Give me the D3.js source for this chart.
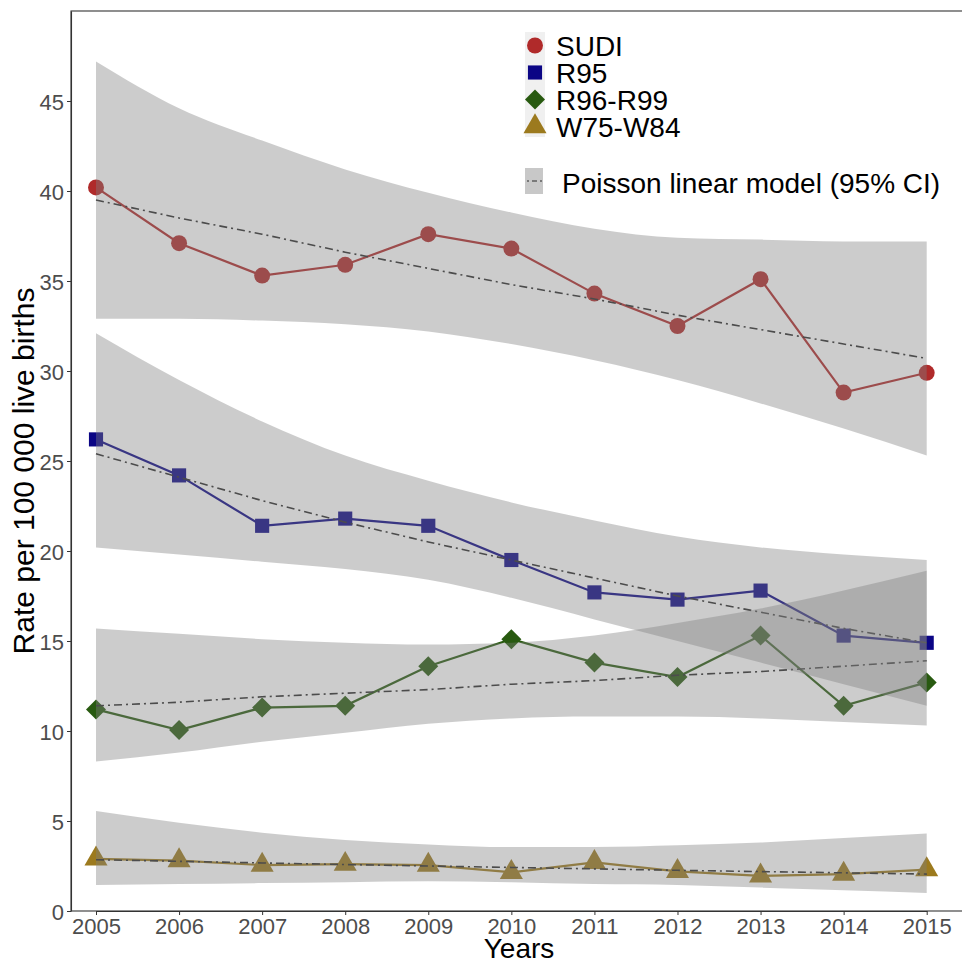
<!DOCTYPE html>
<html>
<head>
<meta charset="utf-8">
<script src="https://cdn.jsdelivr.net/npm/d3@7"></script>
<style>
  body { margin: 0; background: #fff; }
  svg text { font-family: "Liberation Sans", Arial, sans-serif; }
</style>
</head>
<body>
<svg id="chart" width="962" height="963"></svg>
<script>
// years on the x axis
var years = [2005, 2006, 2007, 2008, 2009, 2010, 2011, 2012, 2013, 2014, 2015];
var yTicks = [0, 5, 10, 15, 20, 25, 30, 35, 40, 45];

// observed rates per 100 000 live births
var sudi = [40.2, 37.1, 35.3, 35.9, 37.6, 36.8, 34.3, 32.5, 35.1, 28.8, 29.9];
var r95 = [26.2, 24.2, 21.4, 21.8, 21.4, 19.5, 17.7, 17.3, 17.8, 15.3, 14.9];
var r96r99 = [11.2, 10.05, 11.3, 11.4, 13.6, 15.1, 13.8, 13.0, 15.3, 11.4, 12.7];
var w75w84 = [2.9, 2.8, 2.55, 2.6, 2.55, 2.15, 2.7, 2.2, 1.95, 2.05, 2.3];

// Poisson model fits
var sudiFit = [39.5, 38.5, 37.6, 36.6, 35.7, 34.8, 34.0, 33.1, 32.3, 31.5, 30.7];
var r95Fit = [25.4, 24.1, 22.8, 21.6, 20.5, 19.5, 18.5, 17.5, 16.6, 15.7, 14.9];
var r96r99Fit = [11.4, 11.6, 11.9, 12.1, 12.3, 12.6, 12.8, 13.1, 13.3, 13.6, 13.9];
var w75w84Fit = [2.85, 2.76, 2.67, 2.58, 2.5, 2.42, 2.34, 2.26, 2.19, 2.12, 2.05];

// 95% CI bands
var sudiLo = [32.9, 32.9, 32.8, 32.6, 32.2, 31.5, 30.6, 29.5, 28.2, 26.8, 25.3];
var sudiHi = [47.2, 44.6, 42.8, 41.2, 39.9, 38.8, 37.9, 37.4, 37.3, 37.2, 37.2];
var r95Lo = [20.2, 19.8, 19.4, 19.0, 18.4, 17.4, 16.2, 15.0, 13.8, 12.6, 11.4];
var r95Hi = [32.1, 29.5, 27.2, 25.3, 23.9, 22.7, 21.7, 20.8, 20.2, 19.8, 19.5];
var r96r99Lo = [8.3, 8.8, 9.4, 9.9, 10.4, 10.7, 10.8, 10.8, 10.7, 10.5, 10.3];
var r96r99Hi = [15.7, 15.4, 15.1, 14.9, 14.8, 14.9, 15.3, 16.0, 16.8, 17.8, 18.9];
var w75w84Lo = [1.45, 1.5, 1.55, 1.6, 1.65, 1.6, 1.5, 1.45, 1.3, 1.15, 1.0];
var w75w84Hi = [5.55, 4.9, 4.35, 3.95, 3.7, 3.55, 3.55, 3.65, 3.8, 4.05, 4.3];

var seriesNames = ["SUDI", "R95", "R96-R99", "W75-W84"];
var seriesColors = ["#b02a2a", "#0b0585", "#285a10", "#9c7a1e"];
var seriesShapes = [d3.symbolCircle, d3.symbolSquare, d3.symbolSquare, d3.symbolTriangle];
var seriesRotate = [0, 0, 45, 0];
var seriesSizes = [200, 200, 200, 230];

var series = [
    {obs: sudi, fit: sudiFit, lo: sudiLo, hi: sudiHi},
    {obs: r95, fit: r95Fit, lo: r95Lo, hi: r95Hi},
    {obs: r96r99, fit: r96r99Fit, lo: r96r99Lo, hi: r96r99Hi},
    {obs: w75w84, fit: w75w84Fit, lo: w75w84Lo, hi: w75w84Hi}
];

var svg = d3.select("#chart");
var plotLeft = 71, plotTop = 11, plotBottom = 911;

var x = d3.scaleLinear().domain([2005, 2015]).range([96, 926.7]);
var y = d3.scaleLinear().domain([0, 50]).range([plotBottom, plotTop]);

var line = d3.line()
    .x(function(d, i) { return x(years[i]); })
    .y(function(d) { return y(d); });

var plot = svg.append("g");

// observed lines and points
series.forEach(function(s, k) {
    plot.append("path")
        .datum(s.obs)
        .attr("d", line)
        .attr("fill", "none")
        .attr("stroke", seriesColors[k])
        .attr("stroke-width", 2.2);

    plot.selectAll(".pt" + k)
        .data(s.obs)
        .enter().append("path")
        .attr("transform", function(d, i) {
            return "translate(" + x(years[i]) + "," + y(d) + ") rotate(" + seriesRotate[k] + ")";
        })
        .attr("d", d3.symbol().type(seriesShapes[k]).size(seriesSizes[k]))
        .attr("fill", seriesColors[k]);
});

// model lines
series.forEach(function(s) {
    plot.append("path")
        .datum(s.fit)
        .attr("d", line)
        .attr("fill", "none")
        .attr("stroke", "#2a2a2a")
        .attr("stroke-width", 1.6)
        .attr("stroke-dasharray", "8,4,2,4");
});

// CI ribbons drawn on top, semi transparent
var area = d3.area()
    .x(function(d) { return x(d.year); })
    .y0(function(d) { return y(d.lo); })
    .y1(function(d) { return y(d.hi); })
    .curve(d3.curveMonotoneX);

series.forEach(function(s) {
    var band = years.map(function(yr, i) { return {year: yr, lo: s.lo[i], hi: s.hi[i]}; });
    plot.append("path")
        .datum(band)
        .attr("d", area)
        .attr("fill", "#7f7f7f")
        .attr("fill-opacity", 0.4);
});

// panel frame (right edge is off the picture)
svg.append("rect")
    .attr("x", plotLeft)
    .attr("y", plotTop)
    .attr("width", 960)
    .attr("height", plotBottom - plotTop)
    .attr("fill", "none")
    .attr("stroke", "#333")
    .attr("stroke-width", 1.1);

// axes
var xAxis = svg.append("g")
    .attr("transform", "translate(0," + plotBottom + ")")
    .call(d3.axisBottom(x).tickValues(years).tickFormat(d3.format("d")).tickSize(4).tickSizeOuter(0).tickPadding(3));
var yAxis = svg.append("g")
    .attr("transform", "translate(" + plotLeft + ",0)")
    .call(d3.axisLeft(y).tickValues(yTicks).tickSize(4).tickSizeOuter(0).tickPadding(3));

[xAxis, yAxis].forEach(function(ax) {
    ax.select(".domain").attr("stroke", "#333").attr("stroke-width", 1.1);
    ax.selectAll(".tick line").attr("stroke", "#333");
    ax.selectAll("text")
        .attr("fill", "#4d4d4d")
        .style("font-size", "22px")
        .style("font-family", "'Liberation Sans', Arial, sans-serif");
});
yAxis.selectAll("text").attr("dy", "0.38em");

// axis titles
svg.append("text")
    .attr("x", 519)
    .attr("y", 958)
    .attr("text-anchor", "middle")
    .style("font-size", "28px")
    .text("Years");

svg.append("text")
    .attr("transform", "translate(34,471) rotate(-90)")
    .attr("text-anchor", "middle")
    .style("font-size", "30px")
    .text("Rate per 100 000 live births");

// legend
var legend = svg.append("g");
legend.append("rect")
    .attr("x", 525).attr("y", 32)
    .attr("width", 20).attr("height", 105)
    .attr("fill", "#f0f0f0");

seriesNames.forEach(function(name, k) {
    var cy = 45.5 + k * 27;
    legend.append("path")
        .attr("transform", "translate(535," + cy + ") rotate(" + seriesRotate[k] + ")")
        .attr("d", d3.symbol().type(seriesShapes[k]).size(seriesSizes[k]))
        .attr("fill", seriesColors[k]);
    legend.append("text")
        .attr("x", 556)
        .attr("y", cy)
        .attr("dy", "0.36em")
        .style("font-size", "28px")
        .text(name);
});

legend.append("rect")
    .attr("x", 525).attr("y", 168)
    .attr("width", 18).attr("height", 26)
    .attr("fill", "#c8c8c8");
legend.append("line")
    .attr("x1", 527).attr("x2", 542)
    .attr("y1", 181).attr("y2", 181)
    .attr("stroke", "#2a2a2a")
    .attr("stroke-width", 1.2)
    .attr("stroke-dasharray", "2,3,5,3");
legend.append("text")
    .attr("x", 562)
    .attr("y", 182.5)
    .attr("dy", "0.36em")
    .style("font-size", "28px")
    .text("Poisson linear model (95% CI)");
</script>
</body>
</html>
